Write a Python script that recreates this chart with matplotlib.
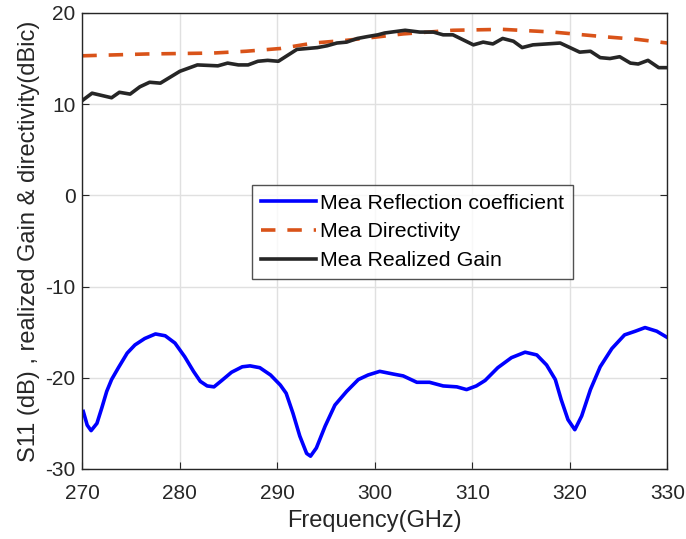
import matplotlib
matplotlib.use("Agg")
import matplotlib.pyplot as plt
import numpy as np

plt.rcParams['font.family'] = ['Liberation Sans', 'DejaVu Sans']
plt.rcParams['axes.unicode_minus'] = False

# measured reflection coefficient S11 (dB)
f_s11 = [270.1, 270.5, 270.9, 271.5, 272.0, 272.5, 273.0, 273.7, 274.6, 275.4,
         276.4, 277.5, 278.5, 279.5, 280.5, 281.4, 282.1, 282.8, 283.5, 284.3,
         285.3, 286.4, 287.2, 288.2, 289.3, 290.3, 290.9, 291.6, 292.3, 293.0,
         293.4, 294.0, 294.9, 295.9, 297.1, 298.3, 299.3, 300.5, 301.9, 302.9,
         304.3, 305.6, 307.0, 308.4, 309.4, 310.4, 311.3, 312.6, 314.0, 315.4,
         316.6, 317.6, 318.5, 319.1, 319.8, 320.5, 321.2, 322.1, 323.1, 324.3,
         325.6, 326.7, 327.7, 328.9, 330.0]
s11 = [-23.7, -25.2, -25.8, -25.0, -23.3, -21.5, -20.2, -18.9, -17.3, -16.4,
       -15.7, -15.2, -15.4, -16.2, -17.7, -19.3, -20.4, -20.9, -21.0, -20.3,
       -19.4, -18.8, -18.7, -18.9, -19.7, -20.8, -21.7, -23.9, -26.4, -28.3,
       -28.6, -27.7, -25.3, -23.0, -21.5, -20.2, -19.7, -19.3, -19.6, -19.8,
       -20.5, -20.5, -20.9, -21.0, -21.3, -20.9, -20.3, -18.9, -17.8, -17.2,
       -17.5, -18.6, -20.2, -22.4, -24.6, -25.7, -24.2, -21.3, -18.8, -16.8,
       -15.3, -14.9, -14.5, -14.9, -15.6]

# measured directivity (dBic)
f_dir = [270, 276.6, 283.4, 286.8, 290.3, 293.7, 297.1, 300.5, 302.9, 308.0,
         313.1, 318.3, 323.4, 326.9, 330]
directivity = [15.3, 15.5, 15.6, 15.8, 16.1, 16.7, 17.0, 17.4, 17.7, 18.1,
               18.2, 17.9, 17.4, 17.1, 16.7]

# measured realized gain (dBic)
f_gain = [270, 271, 273.0, 273.8, 274.9, 275.9, 276.9, 278.0, 280.0, 281.8, 283.9,
          284.9, 286.0, 287.0, 288.0, 289.0, 290.1, 292.0, 294.1, 295.1, 296.1,
          297.1, 298.2, 299.2, 300.3, 301.0, 303.1, 304.6, 306.0, 307.0, 308.0,
          310.1, 311.1, 312.1, 313.1, 314.2, 315.1, 316.2, 319.0, 320.0, 321.0,
          322.1, 323.1, 324.1, 325.1, 326.2, 327.0, 328.0, 329.1, 330]
gain = [10.4, 11.2, 10.7, 11.3, 11.1, 11.9, 12.4, 12.3, 13.6, 14.3, 14.2,
        14.5, 14.3, 14.3, 14.7, 14.8, 14.7, 16.0, 16.2, 16.4, 16.7,
        16.8, 17.2, 17.4, 17.6, 17.8, 18.1, 17.9, 17.9, 17.6, 17.6,
        16.5, 16.8, 16.6, 17.2, 16.9, 16.2, 16.5, 16.7, 16.2, 15.7,
        15.8, 15.1, 15.0, 15.2, 14.5, 14.4, 14.8, 14.0, 14.0]

fig = plt.figure(figsize=(6.86, 5.39), dpi=100)
ax = fig.add_axes([0.120, 0.130, 0.853, 0.846])

ax.plot(f_s11, s11, color=(0, 0, 1), lw=2.6, label='Mea Reflection coefficient')
ax.plot(f_dir, directivity, color='#D95319', lw=2.6, dashes=(4, 3.3),
        label='Mea Directivity')
ax.plot(f_gain, gain, color='#262626', lw=2.6, label='Mea Realized Gain')

ax.set_xlim(270, 330)
ax.set_ylim(-30, 20)
ax.set_xticks(np.arange(270, 331, 10))
ax.set_yticks(np.arange(-30, 21, 10))
ax.grid(True, color='#e0e0e0', lw=1)
ax.set_axisbelow(True)
ax.tick_params(direction='in', length=5, labelsize=15, colors='#262626',
               top=False, right=True)
ax.tick_params(axis='x', pad=11)
ax.tick_params(axis='y', pad=5)
for s in ax.spines.values():
    s.set_color('#262626')
    s.set_linewidth(1)

ax.set_xlabel('Frequency(GHz)', fontsize=17, color='#262626', labelpad=5)
ax.set_ylabel('S11 (dB) , realized Gain & directivity(dBic)', fontsize=17,
              color='#262626', labelpad=4)

leg = ax.legend(loc='lower left', bbox_to_anchor=(0.290, 0.417), fontsize=15.4,
                frameon=True, fancybox=False, edgecolor='#262626',
                handlelength=2.6, borderpad=0.4, labelspacing=0.46,
                handletextpad=0.2, borderaxespad=0)
leg.get_frame().set_linewidth(1)

fig.savefig('out.png', dpi=100)
